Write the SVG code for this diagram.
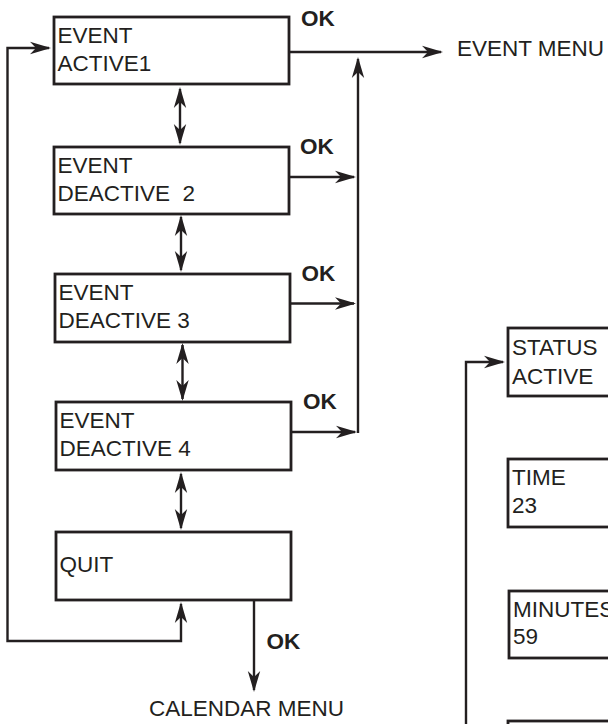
<svg xmlns="http://www.w3.org/2000/svg" width="608" height="724" viewBox="0 0 608 724">
  <style>
    .box { fill: #ffffff; stroke: #231f20; stroke-width: 2.8; }
    .lbl { font-family: "Liberation Sans", Arial, sans-serif; font-size: 22.5px; fill: #231f20; white-space: pre; }
    .ok { font-family: "Liberation Sans", Arial, sans-serif; font-size: 22.5px; font-weight: bold; fill: #231f20; }
    .wire { fill: none; stroke: #231f20; stroke-width: 2.4; }
    .arr { marker-end: url(#head); }
    .dbl { marker-start: url(#head); marker-end: url(#head); }
  </style>
  <defs>
    <!-- notched arrowhead, tip 2px beyond the line end -->
    <marker id="head" viewBox="-20 -7 23 14" refX="0" refY="0" markerWidth="23" markerHeight="14" markerUnits="userSpaceOnUse" orient="auto-start-reverse">
      <path d="M2,0 L-19,-6.2 L-13,0 L-19,6.2 Z" fill="#231f20"/>
    </marker>
  </defs>

  <!-- connectors -->
  <g id="connectors">
    <!-- OK exits to EVENT MENU -->
    <line class="wire arr" x1="289" y1="52" x2="441" y2="52"/>
    <line class="wire arr" x1="358" y1="433" x2="358" y2="59"/>
    <line class="wire arr" x1="289" y1="177" x2="354" y2="177"/>
    <line class="wire arr" x1="290" y1="303.5" x2="354" y2="303.5"/>
    <line class="wire arr" x1="291" y1="432" x2="355" y2="432"/>
    <!-- up/down navigation between entries -->
    <line class="wire dbl" x1="180" y1="89" x2="180" y2="143"/>
    <line class="wire dbl" x1="181" y1="217" x2="181" y2="270"/>
    <line class="wire dbl" x1="182.5" y1="345" x2="182.5" y2="399"/>
    <line class="wire dbl" x1="181" y1="474" x2="181" y2="528"/>
    <!-- wrap-around loop from QUIT back to the first entry -->
    <path class="wire dbl" d="M181,604 L181,641 L7.5,641 L7.5,48 L49,48"/>
    <!-- QUIT confirmed -->
    <line class="wire arr" x1="254" y1="600" x2="254" y2="690"/>
    <!-- entry into the event settings -->
    <path class="wire arr" d="M466,724 L466,362 L503,362"/>
  </g>

  <g id="node-event1">
    <rect class="box" x="54" y="17" width="235" height="67"/>
    <text class="lbl" x="57.5" y="43.3">EVENT</text>
    <text class="lbl" x="57.5" y="71">ACTIVE1</text>
  </g>
  <g id="node-event2">
    <rect class="box" x="54" y="147" width="235" height="67"/>
    <text class="lbl" x="57.5" y="173">EVENT</text>
    <text class="lbl" x="57.5" y="201">DEACTIVE  2</text>
  </g>
  <g id="node-event3">
    <rect class="box" x="55" y="274" width="235" height="68"/>
    <text class="lbl" x="58.5" y="300">EVENT</text>
    <text class="lbl" x="58.5" y="327.7">DEACTIVE 3</text>
  </g>
  <g id="node-event4">
    <rect class="box" x="56" y="402" width="235" height="68"/>
    <text class="lbl" x="59.5" y="427.7">EVENT</text>
    <text class="lbl" x="59.5" y="456">DEACTIVE 4</text>
  </g>
  <g id="node-quit">
    <rect class="box" x="56" y="532" width="235" height="68"/>
    <text class="lbl" x="59.5" y="571.7">QUIT</text>
  </g>

  <g id="node-status">
    <rect class="box" x="508" y="328" width="130" height="68"/>
    <text class="lbl" x="512" y="355">STATUS</text>
    <text class="lbl" x="512" y="383.5">ACTIVE</text>
  </g>
  <g id="node-time">
    <rect class="box" x="508" y="459" width="130" height="68"/>
    <text class="lbl" x="512" y="485">TIME</text>
    <text class="lbl" x="512" y="512.7">23</text>
  </g>
  <g id="node-minutes">
    <rect class="box" x="509" y="591" width="130" height="67"/>
    <text class="lbl" x="513" y="616.7">MINUTES</text>
    <text class="lbl" x="513" y="644.3">59</text>
  </g>
  <g id="node-next">
    <rect class="box" x="508" y="721" width="130" height="68"/>
  </g>

  <g id="labels">
    <text class="ok" x="301" y="26">OK</text>
    <text class="ok" x="300" y="154">OK</text>
    <text class="ok" x="301.5" y="281">OK</text>
    <text class="ok" x="303" y="409">OK</text>
    <text class="ok" x="266.5" y="648.5">OK</text>
    <text class="lbl" x="457" y="56">EVENT MENU</text>
    <text class="lbl" x="149" y="716">CALENDAR MENU</text>
  </g>
</svg>
